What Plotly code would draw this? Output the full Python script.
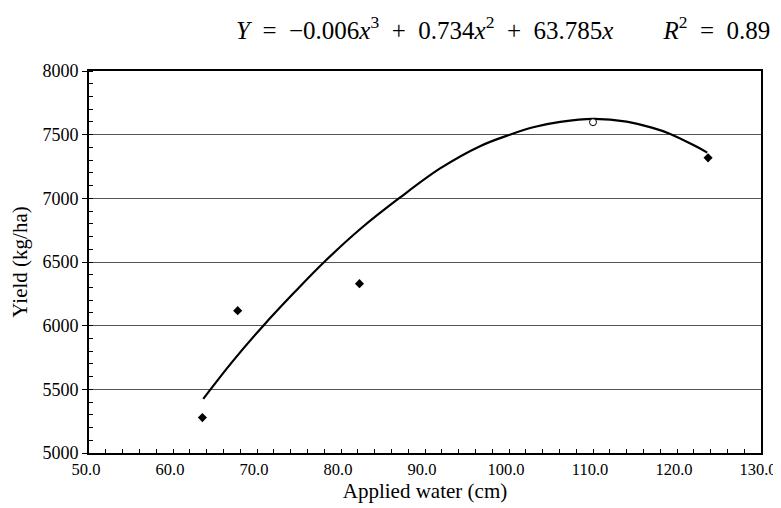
import plotly.graph_objects as go

# observed data (filled diamonds)
water_obs = [63.5, 67.7, 82.2, 123.7]
yield_obs = [5278, 6118, 6330, 7318]
# open circle point
water_open = [110.0]
yield_open = [7598]
# fitted trend curve
curve_x = [63.6, 67.0, 70.75, 74.4, 78.0, 82.4, 87.0, 91.8, 96.55, 100.1, 103.0, 106.1, 110.0, 114.0, 117.0, 119.2, 121.9, 123.6]
curve_y = [5425, 5712, 6000, 6258, 6500, 6765, 7005, 7235, 7410, 7500, 7560, 7600, 7624, 7603, 7555, 7506, 7420, 7359]

SP = "&nbsp;"
equation = ("<i>Y</i>" + SP * 2 + "=" + SP * 2 + "\u22120.006<i>x</i><sup>3</sup>" + SP * 2 + "+" + SP * 2 +
            "0.734<i>x</i><sup>2</sup>" + SP * 2 + "+" + SP * 2 + "63.785<i>x</i>" + SP * 8 +
            "<i>R</i><sup>2</sup>" + SP * 2 + "=" + SP * 2 + "0.89")

FONT = "Liberation Serif, Times New Roman, Times, serif"

fig = go.Figure()
fig.add_trace(go.Scatter(x=curve_x, y=curve_y, mode="lines",
                         line=dict(color="black", width=2.2, shape="spline", smoothing=1.0),
                         hoverinfo="skip", showlegend=False))
fig.add_trace(go.Scatter(x=water_obs, y=yield_obs, mode="markers",
                         marker=dict(symbol="diamond", size=7, color="black"),
                         showlegend=False))
fig.add_trace(go.Scatter(x=water_open, y=yield_open, mode="markers",
                         marker=dict(symbol="circle", size=7, color="white",
                                     line=dict(color="black", width=1)),
                         showlegend=False))

# page body has an 8px margin, so the figure is offset by 8px inside the window
fig.update_layout(
    width=773, height=500,
    margin=dict(l=81, r=20, t=63, b=55),
    paper_bgcolor="white", plot_bgcolor="white",
    font=dict(family=FONT, size=18, color="black"),
    annotations=[dict(text=equation, xref="paper", yref="paper",
                      x=0.616, y=1.113, xanchor="center", yanchor="middle",
                      showarrow=False, font=dict(family=FONT, size=25, color="black"))],
)
fig.update_xaxes(
    range=[50, 130], tick0=50, dtick=10, tickformat=".1f",
    showgrid=False, zeroline=False, automargin=False, ticklabeloverflow="allow",
    ticklabelshift=-3,
    showline=True, linecolor="black", linewidth=2, mirror=True,
    ticks="inside", ticklen=4, tickwidth=1, tickcolor="black",
    minor=dict(dtick=2, ticks="inside", ticklen=4, tickcolor="black", showgrid=False),
    title=dict(text="Applied water (cm)", font=dict(family=FONT, size=21), standoff=6),
    tickfont=dict(family=FONT, size=16.5),
)
fig.update_yaxes(
    range=[5000, 8000], tick0=5000, dtick=500,
    showgrid=True, gridcolor="#555555", gridwidth=1, zeroline=False, automargin=False,
    showline=True, linecolor="black", linewidth=2, mirror=True,
    ticks="outside", ticklen=5, tickwidth=1, tickcolor="black",
    minor=dict(dtick=100, ticks="inside", ticklen=4, tickcolor="black", showgrid=False),
    title=dict(text="Yield (kg/ha)", font=dict(family=FONT, size=21), standoff=10),
    tickfont=dict(family=FONT, size=18),
)

fig.write_html("out.html")
